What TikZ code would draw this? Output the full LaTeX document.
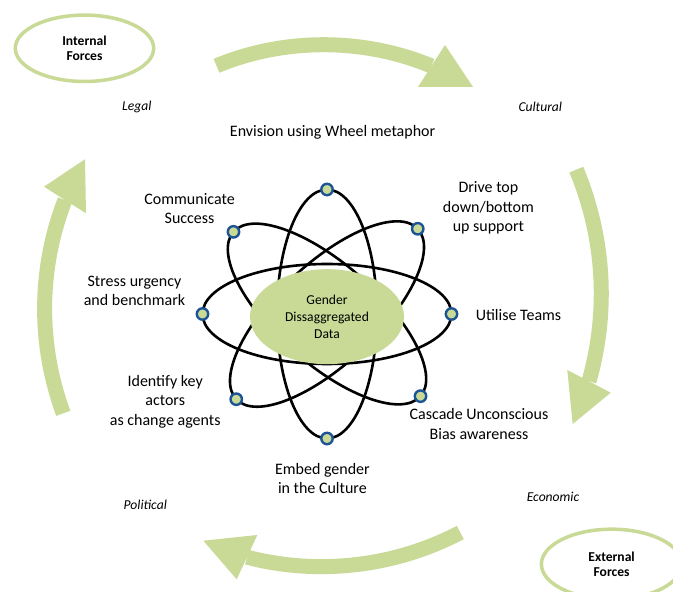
\documentclass[tikz,border=0pt]{standalone}
\usepackage{fontspec}
\setmainfont{Carlito}
\usetikzlibrary{shapes.geometric}
\definecolor{arrowgreen}{RGB}{200,218,150}
\definecolor{dotblue}{RGB}{28,84,150}
\begin{document}
\begin{tikzpicture}[x=1pt,y=1pt,
  band/.style={draw=arrowgreen, line width=15pt},
  head/.style={fill=arrowgreen, draw=none},
  orbit/.style={draw=black, line width=2.6pt},
  dot/.style={circle, draw=dotblue, fill=arrowgreen, line width=2.4pt, minimum size=11.4pt, inner sep=0pt},
  lbl/.style={font=\fontsize{16}{19.5}\selectfont, align=center, inner sep=0pt},
  ital/.style={font=\fontsize{13.6}{16}\selectfont\itshape, inner sep=0pt},
  force/.style={ellipse, draw=arrowgreen, line width=3.5pt, inner sep=0pt, align=center,
    font=\fontsize{13.6}{15}\selectfont\bfseries},
  hub/.style={ellipse, fill=arrowgreen, draw=none, inner sep=0pt, align=center,
    minimum width=154pt, minimum height=95pt, font=\fontsize{13.6}{16.7}\selectfont}
]
\useasboundingbox (0,0) rectangle (673,592);
\fill[white] (0,0) rectangle (673,592);
\clip (0,0) rectangle (673,592);

% circular arrows
\coordinate (a1s) at (216.5,526.2); \coordinate (a1e) at (431.5,526);
\coordinate (a2s) at (576.3,422.3); \coordinate (a2e) at (589,210.7);
\coordinate (a3s) at (460.3,59.5);  \coordinate (a3e) at (247,34.8);
\coordinate (a4s) at (63.3,178.7);  \coordinate (a4e) at (65,392);
\draw[band] (a1s) to[out=22.5,in=157.5,looseness=0.88] (a1e);
\fill[head] (445,547) -- (418,505) -- (473,505) -- cycle;
\draw[band] (a2s) to[out=-67.3,in=74.1,looseness=0.88] (a2e);
\fill[head] (567.3,222) -- (610.7,199.3) -- (572.7,168) -- cycle;
\draw[band] (a3s) to[out=207.7,in=-14.5,looseness=0.88] (a3e);
\fill[head] (257.3,57) -- (236.7,12.7) -- (203.3,51.3) -- cycle;
\draw[band] (a4s) to[out=110.25,in=248.75,looseness=0.88] (a4e);
\fill[head] (85,432.7) -- (44,405.3) -- (86,378.7) -- cycle;

% force ellipses
\node[force, minimum width=138.4pt, minimum height=66.4pt] (internal) at (84.5,543.7) {Internal\\Forces};
\node[force, minimum width=140.4pt, minimum height=70pt] (external) at (611.6,27.8) {External\\Forces};

% italic labels
\node[ital] (legal) at (136.8,484.7) {Legal};
\node[ital] (cultural) at (540.3,484.7) {Cultural};
\node[ital] (political) at (145.3,87) {Political};
\node[ital] (economic) at (553,94.7) {Economic};

% atom
\coordinate (c) at (327,278);
\draw[orbit] (c) ellipse (124.5 and 50);
\draw[orbit, rotate around={90:(c)}] (c) ellipse (124.5 and 50);
\draw[orbit, rotate around={43.2:(c)}] (c) ellipse (124.5 and 50);
\draw[orbit, rotate around={-41.3:(c)}] (c) ellipse (124.5 and 50);
\node[hub] (hubnode) at (327,275.3) {Gender\\Dissaggregated\\Data};
\foreach \a/\n in {0/d0,43.2/d1,90/d2,138.7/d3,180/d4,223.2/d5,270/d6,318.7/d7}{
  \node[dot] (\n) at ([shift={(\a:124.5)}]c) {};
}

% main labels
\node[lbl] (envision) at (332.6,459.3) {Envision using Wheel metaphor};
\node[lbl] (communicate) at (189.6,383.2) {Communicate\\Success};
\node[lbl] (drive) at (488.4,384) {Drive top\\down/bottom\\up support};
\node[lbl] (stress) at (134.5,301.2) {Stress urgency\\and benchmark};
\node[lbl] (teams) at (518.5,277) {Utilise Teams};
\node[lbl] (identify) at (165.2,190.2) {Identify key\\actors\\as change agents};
\node[lbl] (cascade) at (479,168) {Cascade Unconscious\\Bias awareness};
\node[lbl] (embed) at (322.4,113.7) {Embed gender\\in the Culture};
\end{tikzpicture}
\end{document}
